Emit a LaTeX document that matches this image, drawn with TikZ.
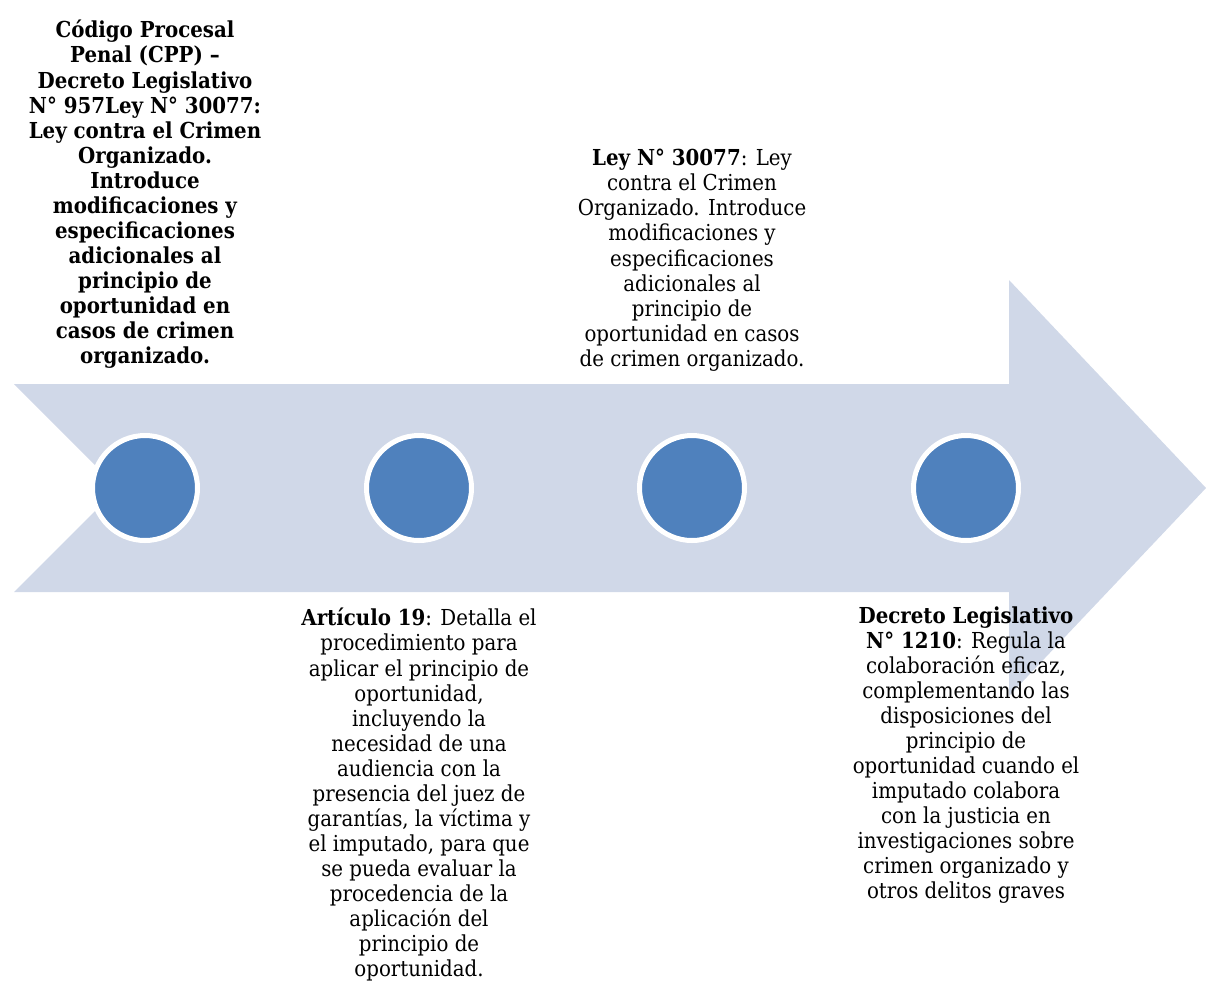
\documentclass[tikz,border=0pt]{standalone}
\usepackage{fontspec}
\setmainfont{DejaVu Serif Condensed}
\usepackage{tikz}

\definecolor{fondoflecha}{HTML}{D0D8E8}
\definecolor{azulpunto}{HTML}{4F81BD}

\begin{document}
\begin{tikzpicture}[x=0.75pt, y=-0.75pt,
    every node/.style={font=\fontsize{16.5}{18.8}\selectfont},
    punto/.style={circle, fill=azulpunto, draw=white, line width=3.75pt, minimum size=78.75pt, inner sep=0pt},
    texto/.style={align=center, inner sep=0pt, anchor=north}]
    \useasboundingbox (0,0) rectangle (1206,983);

    % flecha
    \fill[fondoflecha] (14,384) -- (1009,384) -- (1009,280) -- (1206,488)
        -- (1009,696) -- (1009,592) -- (14,592) -- (118,488) -- cycle;

    % círculos
    \foreach \x/\n in {145/p1, 419/p2, 692/p3, 966/p4}
        \node[punto] (\n) at (\x,488) {};

    % textos de arriba
    \node[texto, font=\fontsize{16.5}{18.8}\selectfont\bfseries] (cpp) at (145,20)
        {Código Procesal\\Penal (CPP) –\\Decreto Legislativo\\N° 957Ley N° 30077:\\Ley contra el Crimen\\Organizado.\\Introduce\\modificaciones y\\especificaciones\\adicionales al\\principio de\\oportunidad en\\casos de crimen\\organizado.};
    \node[texto] (ley30077) at (692,149)
        {\textbf{Ley N° 30077}: Ley\\contra el Crimen\\Organizado. Introduce\\modificaciones y\\especificaciones\\adicionales al\\principio de\\oportunidad en casos\\de crimen organizado.};

    % textos de abajo
    \node[texto] (art19) at (419,608)
        {\textbf{Artículo 19}: Detalla el\\procedimiento para\\aplicar el principio de\\oportunidad,\\incluyendo la\\necesidad de una\\audiencia con la\\presencia del juez de\\garantías, la víctima y\\el imputado, para que\\se pueda evaluar la\\procedencia de la\\aplicación del\\principio de\\oportunidad.};
    \node[texto] (dl1210) at (966,606)
        {\textbf{Decreto Legislativo}\\\textbf{N° 1210}: Regula la\\colaboración eficaz,\\complementando las\\disposiciones del\\principio de\\oportunidad cuando el\\imputado colabora\\con la justicia en\\investigaciones sobre\\crimen organizado y\\otros delitos graves};

\end{tikzpicture}
\end{document}
